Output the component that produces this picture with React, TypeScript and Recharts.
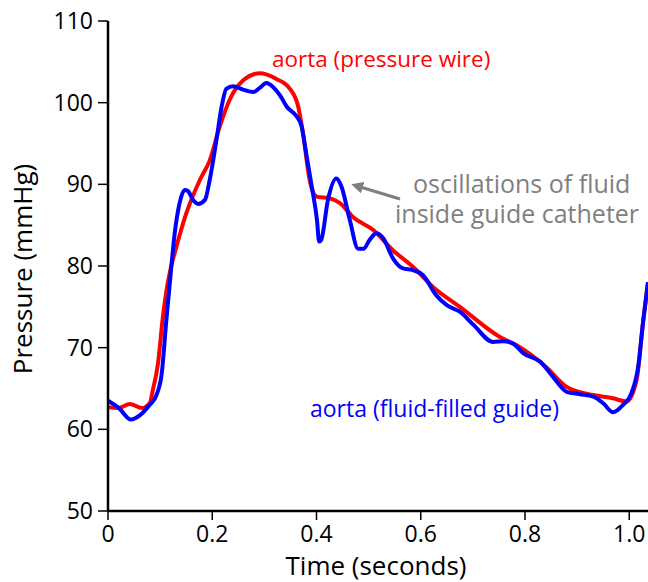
import { CartesianGrid, Line, LineChart, XAxis, YAxis } from "recharts";

// sampled from the traces: time in seconds, pressure in mmHg
const wireTime = [
  0, 0.02, 0.042, 0.065, 0.08, 0.086, 0.096, 0.105, 0.113, 0.12, 0.131, 0.15,
  0.176, 0.195, 0.214, 0.233, 0.259, 0.291, 0.323, 0.349, 0.365, 0.374, 0.387,
  0.4, 0.425, 0.445, 0.47, 0.509, 0.547, 0.585, 0.624, 0.675, 0.752, 0.784,
  0.841, 0.88, 0.931, 0.969, 0.995, 1.014, 1.027, 1.036,
];
const wirePressure = [
  62.7, 62.6, 63.1, 62.6, 63.2, 64.8, 68.1, 73.6, 77.3, 79.6, 82.3, 86.4,
  90.5, 92.9, 97.0, 100.3, 102.7, 103.6, 102.9, 101.7, 99.5, 96.3, 90.5,
  88.5, 88.3, 87.7, 86.0, 84.4, 81.9, 79.9, 77.4, 75.0, 71.3, 70.3,
  67.6, 65.2, 64.2, 63.8, 63.4, 66.0, 73.4, 78.0,
];

const guideTime = [
  0, 0.021, 0.044, 0.061, 0.08, 0.093, 0.103, 0.112, 0.118, 0.128, 0.137,
  0.147, 0.153, 0.163, 0.173, 0.186, 0.195, 0.208, 0.218, 0.227, 0.24, 0.259,
  0.279, 0.291, 0.304, 0.317, 0.33, 0.343, 0.362, 0.371, 0.381, 0.391, 0.401,
  0.405, 0.409, 0.422, 0.438, 0.448, 0.464, 0.48, 0.49, 0.502, 0.515, 0.528,
  0.547, 0.566, 0.585, 0.604, 0.63, 0.65, 0.675, 0.701, 0.739, 0.758, 0.777,
  0.797, 0.829, 0.854, 0.88, 0.905, 0.931, 0.95, 0.969, 0.988, 1.004, 1.017,
  1.027, 1.036,
];
const guidePressure = [
  63.5, 62.6, 61.2, 61.7, 63.0, 64.2, 66.8, 73.4, 77.5, 84.0, 87.6,
  89.3, 89.2, 88.1, 87.6, 88.1, 90.5, 95.4, 99.5, 101.7, 102.0, 101.6,
  101.3, 101.8, 102.4, 101.9, 100.9, 99.5, 98.3, 97.2, 93.5, 89.7, 85.6,
  83.0, 83.2, 88.1, 90.7, 89.7, 85.6, 82.1, 82.1, 83.2, 84.0, 83.4,
  80.9, 79.7, 79.5, 78.9, 76.4, 75.2, 74.4, 72.8, 70.7, 70.8, 70.5,
  69.3, 68.3, 66.4, 64.6, 64.3, 64.0, 63.2, 62.1, 63.0, 64.4, 67.6,
  73.4, 78.0,
];

const xTicks = [0, 0.2, 0.4, 0.6, 0.8, 1.0];
const yTicks = [50, 60, 70, 80, 90, 100, 110];

const wireData = wireTime.map((t, i) => ({ t, p: wirePressure[i] }));
const guideData = guideTime.map((t, i) => ({ t, p: guidePressure[i] }));

const font = "'Open Sans', sans-serif";
const grey = "#7f7f7f";

export default function App() {
  return (
    <div style={{ position: "absolute", left: 0, top: 0, width: 648, height: 582, fontFamily: font }}>
      <LineChart width={648} height={582} margin={{ top: 21, right: 0, bottom: 0, left: 0 }}>
        <CartesianGrid stroke="none" />
        <XAxis
          type="number"
          dataKey="t"
          domain={[0, 1.036]}
          ticks={xTicks}
          allowDataOverflow
          tickFormatter={(v: number) => (v === 0 ? "0" : v.toFixed(1))}
          height={71}
          tickSize={9}
          axisLine={{ stroke: "#000", strokeWidth: 2.5 }}
          tickLine={{ stroke: "#000", strokeWidth: 1.5 }}
          tick={{ fill: "#000", fontSize: 23, fontFamily: font, dy: 4 }}
        />
        <YAxis
          type="number"
          dataKey="p"
          domain={[50, 110]}
          ticks={yTicks}
          width={108}
          tickSize={10}
          tickMargin={5}
          axisLine={{ stroke: "#000", strokeWidth: 2.5 }}
          tickLine={{ stroke: "#000", strokeWidth: 1.5 }}
          tick={{ fill: "#000", fontSize: 23, fontFamily: font }}
        />
        <Line
          data={wireData}
          dataKey="p"
          type="monotone"
          stroke="#ff0000"
          strokeWidth={4}
          dot={false}
          isAnimationActive={false}
        />
        <Line
          data={guideData}
          dataKey="p"
          type="monotone"
          stroke="#0000ff"
          strokeWidth={4}
          dot={false}
          isAnimationActive={false}
        />
      </LineChart>
      <svg
        width={648}
        height={582}
        style={{ position: "absolute", left: 0, top: 0, pointerEvents: "none" }}
      >
        <defs>
          <marker id="head" markerWidth="4" markerHeight="4" refX="2" refY="2" orient="auto">
            <path d="M0,0 L4,2 L0,4 Z" fill={grey} />
          </marker>
        </defs>
        <text x={272} y={67} fill="#ff0000" fontSize={22.5} fontFamily={font}>
          aorta (pressure wire)
        </text>
        <text x={310} y={417} fill="#0000ff" fontSize={23} fontFamily={font}>
          aorta (fluid-filled guide)
        </text>
        <text x={413} y={193} fill={grey} fontSize={25} fontFamily={font}>
          oscillations of fluid
        </text>
        <text x={395} y={223} fill={grey} fontSize={25} fontFamily={font}>
          inside guide catheter
        </text>
        <line x1={400} y1={199} x2={357} y2={186} stroke={grey} strokeWidth={3} markerEnd="url(#head)" />
        <text x={376} y={575} fill="#000" fontSize={26} fontFamily={font} textAnchor="middle">
          Time (seconds)
        </text>
        <text
          transform="translate(32,269) rotate(-90)"
          fill="#000"
          fontSize={26}
          fontFamily={font}
          textAnchor="middle"
        >
          Pressure (mmHg)
        </text>
      </svg>
    </div>
  );
}
